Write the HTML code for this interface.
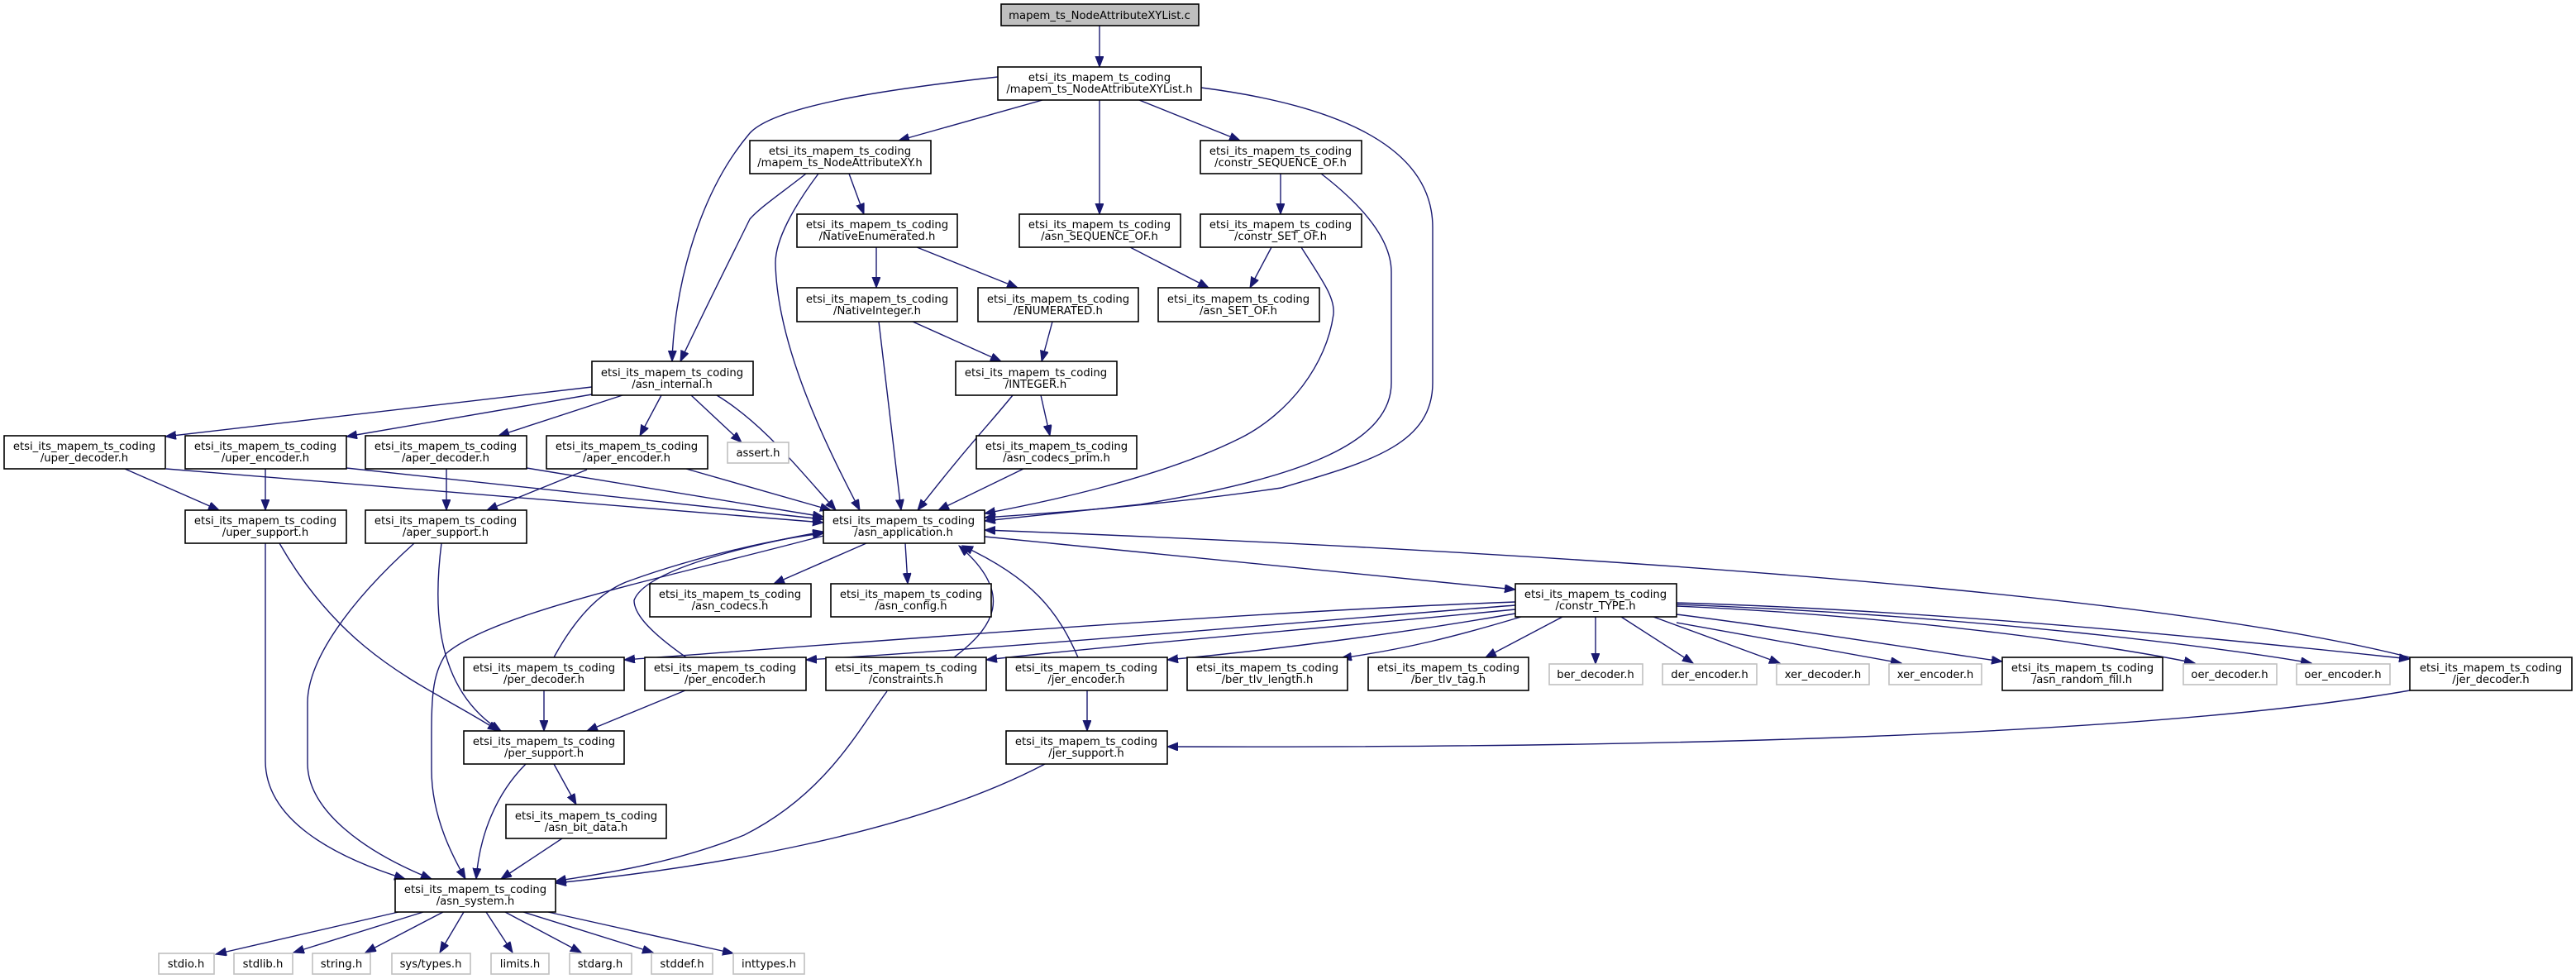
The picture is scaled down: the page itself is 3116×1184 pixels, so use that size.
<!DOCTYPE html>
<html><head><meta charset="utf-8"><style>
html,body{margin:0;padding:0;background:#fff;}
svg{display:block;}
text{font-family:"DejaVu Sans","Liberation Sans",sans-serif;font-size:13.2px;fill:#000;text-anchor:middle;}
.e{fill:none;stroke:#191970;stroke-width:1.4;marker-end:url(#a);}
.n{fill:#fff;stroke:#000;stroke-width:1.6;}
.g{fill:#fff;stroke:#bfbfbf;stroke-width:1.6;}
</style></head><body>
<svg width="3116" height="1184" viewBox="0 0 3116 1184" xmlns="http://www.w3.org/2000/svg">
<defs><marker id="a" markerUnits="userSpaceOnUse" markerWidth="14" markerHeight="12" refX="13" refY="5" orient="auto"><path d="M0,0 L13,5 L0,10 Z" fill="#191970" stroke="#191970"/></marker></defs>

<!-- edges -->
<path class="e" d="M1330,31 L1330,81"/>
<path class="e" d="M1207,93 C1100,105 940,125 907,161 C840,240 815,360 813,437"/>
<path class="e" d="M975,210 C950,230 920,250 907,265 C880,320 840,400 823,437"/>
<path class="e" d="M990,210 C960,250 938,290 938,318 C940,420 1000,540 1040,617"/>
<path class="e" d="M1027,210 L1045,259"/>
<path class="e" d="M1261,121 L1087,170"/>
<path class="e" d="M1330,121 L1330,259"/>
<path class="e" d="M1378,121 L1500,170"/>
<path class="e" d="M1453,106 C1600,125 1733,170 1733,275 L1733,463 C1733,540 1650,560 1550,590 C1400,612 1250,622 1191,626"/>
<path class="e" d="M1549,210 L1549,259"/>
<path class="e" d="M1598,210 C1650,250 1683,290 1683,329 L1683,463 C1683,540 1560,580 1380,610 L1191,630"/>
<path class="e" d="M1060,299 L1060,348"/>
<path class="e" d="M1109,299 L1231,348"/>
<path class="e" d="M1367,299 L1462,348"/>
<path class="e" d="M1538,299 L1512,348"/>
<path class="e" d="M1574,299 C1600,340 1615,360 1613,380 C1605,440 1560,500 1500,530 C1400,580 1250,610 1191,621"/>
<path class="e" d="M1104,389 L1211,437"/>
<path class="e" d="M1063,389 L1090,617"/>
<path class="e" d="M1273,389 L1260,437"/>
<path class="e" d="M1259,478 L1270,527"/>
<path class="e" d="M1225,478 C1195,515 1170,540 1110,617"/>
<path class="e" d="M1238,567 L1135,617"/>
<path class="e" d="M716,468 L200,528"/>
<path class="e" d="M716,477 L419,528"/>
<path class="e" d="M753,478 L603,527"/>
<path class="e" d="M800,478 L774,527"/>
<path class="e" d="M836,478 L897,535"/>
<path class="e" d="M867,478 C920,510 960,560 1011,617"/>
<path class="e" d="M151,567 L265,617"/>
<path class="e" d="M201,567 L996,632"/>
<path class="e" d="M321,567 L321,617"/>
<path class="e" d="M419,566 L996,628"/>
<path class="e" d="M540,567 L540,617"/>
<path class="e" d="M637,566 L996,625"/>
<path class="e" d="M710,568 L589,617"/>
<path class="e" d="M830,567 L1005,617"/>
<path class="e" d="M321,657 L321,920 C321,990 400,1035 490,1063"/>
<path class="e" d="M338,657 C420,800 520,830 603,884"/>
<path class="e" d="M501,657 C420,730 372,800 372,850 L372,923 C372,980 440,1030 522,1063"/>
<path class="e" d="M534,657 C526,720 520,830 606,884"/>
<path class="e" d="M996,648 C800,700 600,740 540,790 C520,820 522,850 522,931 C522,990 550,1040 563,1063"/>
<path class="e" d="M1048,657 L936,706"/>
<path class="e" d="M1095,657 L1098,706"/>
<path class="e" d="M1191,649 L1833,713"/>
<path class="e" d="M1833,728 C1500,740 1000,780 755,798"/>
<path class="e" d="M1833,732 C1600,750 1200,785 975,798"/>
<path class="e" d="M1833,737 C1600,760 1350,780 1193,798"/>
<path class="e" d="M1833,742 C1700,765 1550,785 1412,798"/>
<path class="e" d="M1840,746 C1760,770 1700,785 1622,796"/>
<path class="e" d="M1890,746 L1797,795"/>
<path class="e" d="M1930,746 L1930,803"/>
<path class="e" d="M1961,746 L2048,802"/>
<path class="e" d="M2000,746 L2153,802"/>
<path class="e" d="M2028,753 L2300,802"/>
<path class="e" d="M2028,743 C2200,765 2350,790 2422,800"/>
<path class="e" d="M2028,733 C2300,745 2550,780 2655,802"/>
<path class="e" d="M2028,731 C2400,745 2700,785 2796,802"/>
<path class="e" d="M2028,729 C2400,740 2800,785 2915,797"/>
<path class="e" d="M2915,795 C2700,740 2200,680 1191,641"/>
<path class="e" d="M670,795 C700,740 730,715 757,704 C850,670 950,650 996,645"/>
<path class="e" d="M658,835 L658,884"/>
<path class="e" d="M830,795 C780,760 767,740 767,726 C780,690 900,660 996,643"/>
<path class="e" d="M829,835 L710,884"/>
<path class="e" d="M1154,795 C1200,760 1230,720 1160,660"/>
<path class="e" d="M1304,795 C1280,740 1250,700 1164,660"/>
<path class="e" d="M1315,835 L1315,884"/>
<path class="e" d="M1073,836 C1040,880 1000,960 900,1010 C800,1050 700,1060 672,1066"/>
<path class="e" d="M1264,924 C1100,1010 850,1050 672,1068"/>
<path class="e" d="M2915,835 C2600,890 2000,905 1412,903"/>
<path class="e" d="M636,924 C600,960 580,1010 576,1063"/>
<path class="e" d="M670,924 L697,973"/>
<path class="e" d="M680,1014 L606,1063"/>
<path class="e" d="M482,1103 L261,1154"/>
<path class="e" d="M512,1103 L355,1152"/>
<path class="e" d="M536,1103 L442,1152"/>
<path class="e" d="M561,1103 L532,1152"/>
<path class="e" d="M588,1103 L620,1152"/>
<path class="e" d="M611,1103 L703,1152"/>
<path class="e" d="M633,1103 L790,1152"/>
<path class="e" d="M663,1103 L887,1153"/>

<!-- nodes -->
<rect x="1211" y="5" width="239" height="26" fill="#bfbfbf" stroke="#000" stroke-width="1.6"/>
<text x="1330" y="23">mapem_ts_NodeAttributeXYList.c</text>

<g>
<rect class="n" x="1207" y="81" width="246" height="40"/><text x="1330" y="98">etsi_its_mapem_ts_coding</text><text x="1330" y="112">/mapem_ts_NodeAttributeXYList.h</text>
<rect class="n" x="907" y="170" width="219" height="40"/><text x="1016" y="187">etsi_its_mapem_ts_coding</text><text x="1016" y="201">/mapem_ts_NodeAttributeXY.h</text>
<rect class="n" x="1452" y="170" width="195" height="40"/><text x="1549" y="187">etsi_its_mapem_ts_coding</text><text x="1549" y="201">/constr_SEQUENCE_OF.h</text>
<rect class="n" x="964" y="259" width="194" height="40"/><text x="1061" y="276">etsi_its_mapem_ts_coding</text><text x="1061" y="290">/NativeEnumerated.h</text>
<rect class="n" x="1233" y="259" width="195" height="40"/><text x="1330" y="276">etsi_its_mapem_ts_coding</text><text x="1330" y="290">/asn_SEQUENCE_OF.h</text>
<rect class="n" x="1452" y="259" width="195" height="40"/><text x="1549" y="276">etsi_its_mapem_ts_coding</text><text x="1549" y="290">/constr_SET_OF.h</text>
<rect class="n" x="964" y="348" width="194" height="41"/><text x="1061" y="366">etsi_its_mapem_ts_coding</text><text x="1061" y="380">/NativeInteger.h</text>
<rect class="n" x="1183" y="348" width="194" height="41"/><text x="1280" y="366">etsi_its_mapem_ts_coding</text><text x="1280" y="380">/ENUMERATED.h</text>
<rect class="n" x="1401" y="348" width="195" height="41"/><text x="1498" y="366">etsi_its_mapem_ts_coding</text><text x="1498" y="380">/asn_SET_OF.h</text>
<rect class="n" x="716" y="437" width="195" height="41"/><text x="813" y="455">etsi_its_mapem_ts_coding</text><text x="813" y="469">/asn_internal.h</text>
<rect class="n" x="1156" y="437" width="195" height="41"/><text x="1253" y="455">etsi_its_mapem_ts_coding</text><text x="1253" y="469">/INTEGER.h</text>
<rect class="n" x="1181" y="527" width="194" height="40"/><text x="1278" y="544">etsi_its_mapem_ts_coding</text><text x="1278" y="558">/asn_codecs_prim.h</text>
<rect class="n" x="5" y="527" width="195" height="40"/><text x="102" y="544">etsi_its_mapem_ts_coding</text><text x="102" y="558">/uper_decoder.h</text>
<rect class="n" x="224" y="527" width="195" height="40"/><text x="321" y="544">etsi_its_mapem_ts_coding</text><text x="321" y="558">/uper_encoder.h</text>
<rect class="n" x="442" y="527" width="195" height="40"/><text x="539" y="544">etsi_its_mapem_ts_coding</text><text x="539" y="558">/aper_decoder.h</text>
<rect class="n" x="661" y="527" width="195" height="40"/><text x="758" y="544">etsi_its_mapem_ts_coding</text><text x="758" y="558">/aper_encoder.h</text>
<rect class="g" x="880" y="535" width="74" height="25"/><text x="917" y="552">assert.h</text>
<rect class="n" x="224" y="617" width="195" height="40"/><text x="321" y="634">etsi_its_mapem_ts_coding</text><text x="321" y="648">/uper_support.h</text>
<rect class="n" x="442" y="617" width="195" height="40"/><text x="539" y="634">etsi_its_mapem_ts_coding</text><text x="539" y="648">/aper_support.h</text>
<rect class="n" x="996" y="617" width="195" height="40"/><text x="1093" y="634">etsi_its_mapem_ts_coding</text><text x="1093" y="648">/asn_application.h</text>
<rect class="n" x="786" y="706" width="195" height="40"/><text x="883" y="723">etsi_its_mapem_ts_coding</text><text x="883" y="737">/asn_codecs.h</text>
<rect class="n" x="1005" y="706" width="194" height="40"/><text x="1102" y="723">etsi_its_mapem_ts_coding</text><text x="1102" y="737">/asn_config.h</text>
<rect class="n" x="1833" y="706" width="195" height="40"/><text x="1930" y="723">etsi_its_mapem_ts_coding</text><text x="1930" y="737">/constr_TYPE.h</text>
<rect class="n" x="561" y="795" width="194" height="40"/><text x="658" y="812">etsi_its_mapem_ts_coding</text><text x="658" y="826">/per_decoder.h</text>
<rect class="n" x="780" y="795" width="195" height="40"/><text x="877" y="812">etsi_its_mapem_ts_coding</text><text x="877" y="826">/per_encoder.h</text>
<rect class="n" x="999" y="795" width="194" height="40"/><text x="1096" y="812">etsi_its_mapem_ts_coding</text><text x="1096" y="826">/constraints.h</text>
<rect class="n" x="1217" y="795" width="195" height="40"/><text x="1314" y="812">etsi_its_mapem_ts_coding</text><text x="1314" y="826">/jer_encoder.h</text>
<rect class="n" x="1436" y="795" width="194" height="40"/><text x="1533" y="812">etsi_its_mapem_ts_coding</text><text x="1533" y="826">/ber_tlv_length.h</text>
<rect class="n" x="1655" y="795" width="194" height="40"/><text x="1752" y="812">etsi_its_mapem_ts_coding</text><text x="1752" y="826">/ber_tlv_tag.h</text>
<rect class="g" x="1874" y="803" width="113" height="25"/><text x="1930" y="820">ber_decoder.h</text>
<rect class="g" x="2011" y="803" width="114" height="25"/><text x="2068" y="820">der_encoder.h</text>
<rect class="g" x="2149" y="803" width="112" height="25"/><text x="2205" y="820">xer_decoder.h</text>
<rect class="g" x="2285" y="803" width="112" height="25"/><text x="2341" y="820">xer_encoder.h</text>
<rect class="n" x="2422" y="795" width="194" height="40"/><text x="2519" y="812">etsi_its_mapem_ts_coding</text><text x="2519" y="826">/asn_random_fill.h</text>
<rect class="g" x="2641" y="803" width="113" height="25"/><text x="2697" y="820">oer_decoder.h</text>
<rect class="g" x="2778" y="803" width="113" height="25"/><text x="2834" y="820">oer_encoder.h</text>
<rect class="n" x="2915" y="795" width="196" height="40"/><text x="3013" y="812">etsi_its_mapem_ts_coding</text><text x="3013" y="826">/jer_decoder.h</text>
<rect class="n" x="561" y="884" width="194" height="40"/><text x="658" y="901">etsi_its_mapem_ts_coding</text><text x="658" y="915">/per_support.h</text>
<rect class="n" x="1217" y="884" width="195" height="40"/><text x="1314" y="901">etsi_its_mapem_ts_coding</text><text x="1314" y="915">/jer_support.h</text>
<rect class="n" x="612" y="973" width="194" height="41"/><text x="709" y="991">etsi_its_mapem_ts_coding</text><text x="709" y="1005">/asn_bit_data.h</text>
<rect class="n" x="478" y="1063" width="194" height="40"/><text x="575" y="1080">etsi_its_mapem_ts_coding</text><text x="575" y="1094">/asn_system.h</text>
<rect class="g" x="192" y="1153" width="67" height="25"/><text x="225" y="1170">stdio.h</text>
<rect class="g" x="283" y="1153" width="71" height="25"/><text x="318" y="1170">stdlib.h</text>
<rect class="g" x="378" y="1153" width="70" height="25"/><text x="413" y="1170">string.h</text>
<rect class="g" x="474" y="1153" width="95" height="25"/><text x="521" y="1170">sys/types.h</text>
<rect class="g" x="594" y="1153" width="70" height="25"/><text x="629" y="1170">limits.h</text>
<rect class="g" x="689" y="1153" width="75" height="25"/><text x="726" y="1170">stdarg.h</text>
<rect class="g" x="788" y="1153" width="74" height="25"/><text x="825" y="1170">stddef.h</text>
<rect class="g" x="887" y="1153" width="86" height="25"/><text x="930" y="1170">inttypes.h</text>
</g>
</svg>
</body></html>
